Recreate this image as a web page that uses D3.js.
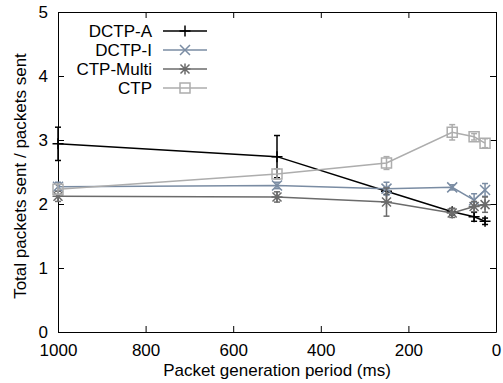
<!DOCTYPE html>
<html>
<head>
<meta charset="utf-8">
<script src="https://cdn.jsdelivr.net/npm/d3@7"></script>
<style>
  body { margin: 0; background: #fff; }
  svg text { font-family: "Liberation Sans", Arial, sans-serif; }
</style>
</head>
<body>
<svg id="drawing_region" width="503" height="383"></svg>
<script>
// values
var periods = [1000, 500, 250, 100, 50, 25];
var seriesNames = ["DCTP-A", "DCTP-I", "CTP-Multi", "CTP"];
var dctpA      = [2.94, 2.74, 2.20, 1.88, 1.80, 1.73];
var dctpAErr   = [0.26, 0.33, 0.05, 0.05, 0.07, 0.05];
var dctpI      = [2.27, 2.29, 2.24, 2.26, 2.06, 2.22];
var dctpIErr   = [0.07, 0.05, 0.10, 0.04, 0.10, 0.10];
var ctpMulti   = [2.12, 2.11, 2.03, 1.86, 1.96, 1.99];
var ctpMultiErr= [0.08, 0.08, 0.22, 0.07, 0.08, 0.12];
var ctp        = [2.23, 2.47, 2.64, 3.12, 3.05, 2.95];
var ctpErr     = [0.08, 0.08, 0.10, 0.12, 0.05, 0.07];
var xTicks = [1000, 800, 600, 400, 200, 0];
var yTicks = [0, 1, 2, 3, 4, 5];

var svg = d3.select('#drawing_region');
var margin = {top: 12, right: 7, bottom: 51, left: 58};
var W = 503, H = 383;

var x = d3.scaleLinear().domain([1000, 0]).range([margin.left, W - margin.right]);
var y = d3.scaleLinear().domain([0, 5]).range([H - margin.bottom, margin.top]);

var colors = ["#000000", "#7a8ca3", "#6b6b6b", "#adadad"];
var values = [dctpA, dctpI, ctpMulti, ctp];
var errors = [dctpAErr, dctpIErr, ctpMultiErr, ctpErr];
var symbols = [
  "M-5.5,0H5.5M0,-5.5V5.5",
  "M-5,-5L5,5M-5,5L5,-5",
  "M-5.5,0H5.5M0,-5.5V5.5M-4.5,-4.5L4.5,4.5M-4.5,4.5L4.5,-4.5",
  "M-5,-5H5V5H-5Z"
];

var fontSize = 17;

// axes (ticks inward, mirrored)
svg.append("g").attr("transform", `translate(0,${y(0)})`)
  .call(d3.axisBottom(x).tickValues(xTicks).tickFormat(d3.format("d")).tickSizeInner(-6).tickSizeOuter(0).tickPadding(12))
  .call(g => g.selectAll("text").attr("font-size", fontSize).attr("fill", "#000"));
svg.append("g").attr("transform", `translate(0,${y(5)})`)
  .call(d3.axisTop(x).tickValues(xTicks).tickSizeInner(-6).tickSizeOuter(0).tickFormat(""));
svg.append("g").attr("transform", `translate(${x(1000)},0)`)
  .call(d3.axisLeft(y).tickValues(yTicks).tickFormat(d3.format("d")).tickSizeInner(-6).tickSizeOuter(0).tickPadding(10))
  .call(g => g.selectAll("text").attr("font-size", fontSize).attr("fill", "#000"));
svg.append("g").attr("transform", `translate(${x(0)},0)`)
  .call(d3.axisRight(y).tickValues(yTicks).tickSizeInner(-6).tickSizeOuter(0).tickFormat(""));
svg.selectAll(".domain").attr("stroke", "#000");
svg.selectAll(".tick line").attr("stroke", "#000");

// axis titles
svg.append("text")
  .attr("x", (x(1000) + x(0)) / 2).attr("y", H - 7)
  .attr("text-anchor", "middle").attr("font-size", fontSize)
  .text("Packet generation period (ms)");
svg.append("text")
  .attr("transform", `translate(26,${(y(0) + y(5)) / 2 + 4}) rotate(-90)`)
  .attr("text-anchor", "middle").attr("font-size", fontSize)
  .text("Total packets sent / packets sent");

var line = d3.line().x(d => x(d.p)).y(d => y(d.v));

seriesNames.forEach((name, s) => {
  var data = periods.map((p, i) => ({p: p, v: values[s][i], e: errors[s][i]}));
  var g = svg.append("g").attr("stroke", colors[s]).attr("fill", "none").attr("stroke-width", 1.5);

  g.append("path").attr("d", line(data));

  // error bars
  var eb = g.selectAll(".eb").data(data).join("g");
  eb.append("line")
    .attr("x1", d => x(d.p)).attr("x2", d => x(d.p))
    .attr("y1", d => y(d.v - d.e)).attr("y2", d => y(d.v + d.e));
  eb.append("line")
    .attr("x1", d => x(d.p) - 3).attr("x2", d => x(d.p) + 3)
    .attr("y1", d => y(d.v - d.e)).attr("y2", d => y(d.v - d.e));
  eb.append("line")
    .attr("x1", d => x(d.p) - 3).attr("x2", d => x(d.p) + 3)
    .attr("y1", d => y(d.v + d.e)).attr("y2", d => y(d.v + d.e));

  // markers
  g.selectAll(".pt").data(data).join("path")
    .attr("transform", d => `translate(${x(d.p)},${y(d.v)})`)
    .attr("d", symbols[s]);

  // legend
  var ly = 31 + s * 19;
  svg.append("text")
    .attr("x", 152).attr("y", ly).attr("dy", "0.35em")
    .attr("text-anchor", "end").attr("font-size", fontSize)
    .text(name);
  var lg = svg.append("g").attr("stroke", colors[s]).attr("fill", "none").attr("stroke-width", 1.5);
  lg.append("line").attr("x1", 163).attr("x2", 207).attr("y1", ly).attr("y2", ly);
  lg.append("path").attr("transform", `translate(185,${ly})`).attr("d", symbols[s]);
});
</script>
</body>
</html>
